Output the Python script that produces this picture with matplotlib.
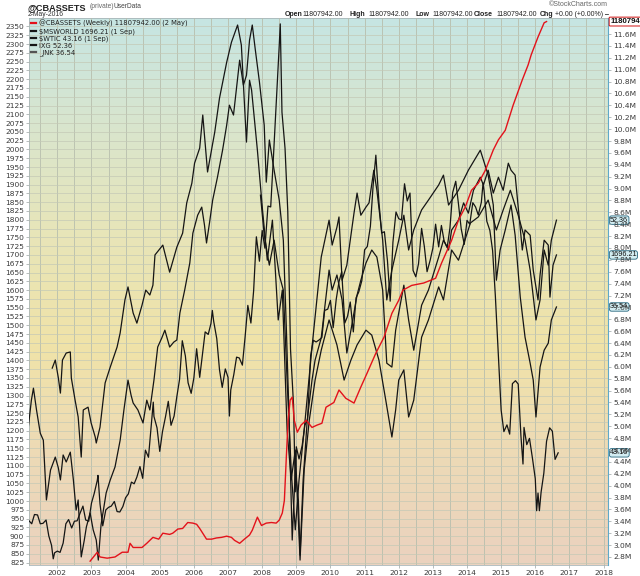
import matplotlib
matplotlib.use("Agg")
import numpy as np
import matplotlib.pyplot as plt
from matplotlib.colors import LinearSegmentedColormap
from matplotlib.lines import Line2D
from matplotlib.ticker import MultipleLocator, FixedLocator, FuncFormatter

# ====== DATA ======
# @CBASSETS, weekly, right axis in millions
cb_years = [2002.96, 2003.17, 2003.25, 2003.46, 2003.69, 2003.90, 2004.07, 2004.13, 2004.22, 2004.48,
            2004.62, 2004.80, 2004.97, 2005.09, 2005.29, 2005.38, 2005.53, 2005.67, 2005.82, 2005.97,
            2006.08, 2006.17, 2006.37, 2006.52, 2006.66, 2006.81, 2006.96, 2007.10, 2007.19, 2007.34,
            2007.48, 2007.63, 2007.71, 2007.86, 2007.98, 2008.12, 2008.27, 2008.41, 2008.50, 2008.59,
            2008.65, 2008.71, 2008.76, 2008.82, 2008.88, 2008.94, 2009.03, 2009.14, 2009.29, 2009.46,
            2009.61, 2009.75, 2009.87, 2010.10, 2010.25, 2010.45, 2010.69, 2010.89, 2011.07, 2011.33,
            2011.57, 2011.80, 2012.00, 2012.12, 2012.38, 2012.73, 2013.08, 2013.25, 2013.55, 2013.75,
            2013.95, 2014.13, 2014.33, 2014.54, 2014.62, 2014.77, 2014.92, 2015.12, 2015.35, 2015.62,
            2015.79, 2015.88, 2016.08, 2016.26, 2016.33]
cb_vals = [2.73, 2.88, 2.80, 2.78, 2.80, 2.88, 2.88, 3.03, 2.96, 2.96,
           3.03, 3.13, 3.10, 3.20, 3.18, 3.20, 3.27, 3.28, 3.38, 3.37,
           3.35, 3.28, 3.10, 3.10, 3.12, 3.13, 3.15, 3.13, 3.08, 3.03,
           3.10, 3.17, 3.25, 3.47, 3.33, 3.37, 3.38, 3.37, 3.42, 3.54,
           3.75, 4.51, 5.10, 5.44, 5.49, 5.10, 4.90, 5.02, 5.10, 4.98,
           5.02, 5.05, 5.32, 5.40, 5.61, 5.47, 5.39, 5.66, 5.89, 6.23,
           6.50, 6.90, 7.12, 7.29, 7.37, 7.41, 7.49, 7.74, 8.13, 8.47,
           8.69, 8.97, 9.09, 9.31, 9.43, 9.65, 9.82, 9.98, 10.40, 10.83,
           11.08, 11.25, 11.55, 11.79, 11.81]

# $MSWORLD, in left-axis units
msw_years = [2001.15, 2001.24, 2001.30, 2001.39, 2001.50, 2001.59, 2001.68, 2001.74, 2001.80, 2001.94,
             2002.03, 2002.09, 2002.17, 2002.26, 2002.38, 2002.47, 2002.55, 2002.61, 2002.70, 2002.79,
             2002.85, 2002.96, 2003.05, 2003.14, 2003.20, 2003.28, 2003.43, 2003.55, 2003.69, 2003.84,
             2003.95, 2004.07, 2004.16, 2004.22, 2004.36, 2004.51, 2004.62, 2004.71, 2004.83, 2004.94,
             2005.06, 2005.15, 2005.29, 2005.41, 2005.50, 2005.59, 2005.73, 2005.88, 2005.97, 2006.11,
             2006.23, 2006.31, 2006.37, 2006.46, 2006.55, 2006.69, 2006.84, 2006.96, 2007.04, 2007.16,
             2007.34, 2007.45, 2007.54, 2007.63, 2007.71, 2007.80, 2007.92, 2008.06, 2008.12, 2008.21,
             2008.35, 2008.50, 2008.62, 2008.71, 2008.79, 2008.88, 2008.97, 2009.06, 2009.11, 2009.20,
             2009.32, 2009.46, 2009.55, 2009.73, 2009.96, 2010.05, 2010.19, 2010.34, 2010.48, 2010.60,
             2010.78, 2010.89, 2011.04, 2011.21, 2011.36, 2011.53, 2011.65, 2011.80, 2011.91, 2012.00,
             2012.15, 2012.29, 2012.44, 2012.67, 2012.87, 2013.17, 2013.31, 2013.46, 2013.55, 2013.75,
             2013.90, 2014.04, 2014.19, 2014.39, 2014.48, 2014.62, 2014.77, 2014.92, 2015.06, 2015.21,
             2015.29, 2015.41, 2015.50, 2015.62, 2015.70, 2015.85, 2015.94, 2016.08, 2016.14, 2016.26,
             2016.38, 2016.43, 2016.52, 2016.62]
msw_vals = [1210, 1287, 1321, 1259, 1193, 1173, 1003, 1045, 1088, 1125,
            1094, 1060, 1131, 1111, 1139, 1060, 974, 1003, 841, 889,
            926, 966, 918, 889, 832, 932, 1023, 1060, 1097, 1173,
            1259, 1344, 1301, 1279, 1259, 1222, 1287, 1259, 1344, 1438,
            1464, 1486, 1438, 1452, 1458, 1535, 1600, 1677, 1762, 1813,
            1836, 1785, 1734, 1793, 1856, 1921, 1998, 2069, 2126, 2098,
            2254, 2183, 2211, 2311, 2354, 2283, 2192, 2069, 1907, 2027,
            1941, 1856, 1742, 1486, 1230, 889, 1088, 1003, 846, 1060,
            1230, 1344, 1401, 1464, 1657, 1600, 1643, 1572, 1421, 1486,
            1586, 1628, 1677, 1714, 1694, 1600, 1392, 1381, 1486, 1535,
            1614, 1515, 1429, 1557, 1600, 1694, 1742, 1714, 1771, 1799,
            1848, 1819, 1884, 1921, 1899, 1941, 1876, 1921, 1884, 1961,
            1941, 1927, 1836, 1714, 1771, 1756, 1657, 1572, 1643, 1742,
            1728, 1580, 1671, 1700]

# IXG, in left-axis units
ixg_years = [2001.85, 2001.94, 2002.03, 2002.09, 2002.15, 2002.26, 2002.38, 2002.41, 2002.52, 2002.61,
             2002.70, 2002.76, 2002.90, 2002.99, 2003.11, 2003.14, 2003.25, 2003.40, 2003.55, 2003.75,
             2003.84, 2003.98, 2004.07, 2004.22, 2004.33, 2004.48, 2004.59, 2004.71, 2004.80, 2004.86,
             2005.09, 2005.29, 2005.50, 2005.67, 2005.79, 2005.94, 2006.02, 2006.17, 2006.26, 2006.40,
             2006.61, 2006.75, 2006.96, 2007.10, 2007.28, 2007.39, 2007.54, 2007.63, 2007.69, 2007.86,
             2008.01, 2008.15, 2008.30, 2008.47, 2008.59, 2008.73, 2008.85, 2008.97, 2009.06, 2009.11,
             2009.23, 2009.38, 2009.55, 2009.73, 2009.96, 2010.19, 2010.40, 2010.60, 2010.78, 2011.04,
             2011.21, 2011.42, 2011.62, 2011.80, 2011.91, 2012.00, 2012.15, 2012.29, 2012.44, 2012.67,
             2012.87, 2013.17, 2013.31, 2013.55, 2013.75, 2014.10, 2014.33, 2014.62, 2014.86, 2015.06,
             2015.27, 2015.50, 2015.70, 2015.85, 2016.02, 2016.14, 2016.26, 2016.38, 2016.47, 2016.62]
ixg_vals = [1378, 1401, 1350, 1307, 1401, 1421, 1424, 1350, 1287, 1239,
            1125, 1259, 1267, 1222, 1182, 1165, 1210, 1336, 1381, 1438,
            1478, 1572, 1609, 1535, 1506, 1557, 1600, 1586, 1614, 1700,
            1728, 1651, 1722, 1762, 1848, 1904, 1961, 2004, 2098, 1936,
            2049, 2146, 2248, 2305, 2354, 2297, 2021, 2197, 2169, 1998,
            1828, 1685, 1799, 1515, 1600, 1202, 1060, 1145, 946, 832,
            1088, 1230, 1344, 1429, 1515, 1444, 1344, 1401, 1444, 1486,
            1472, 1401, 1287, 1182, 1259, 1344, 1373, 1239, 1287, 1466,
            1515, 1609, 1572, 1714, 1685, 1791, 1808, 1856, 1771, 1828,
            1884, 1813, 1742, 1657, 1515, 1572, 1714, 1671, 1742, 1799]

# _JNK, in left-axis units
jnk_years = [2007.95, 2008.06, 2008.21, 2008.35, 2008.50, 2008.62, 2008.73, 2008.85, 2008.97, 2009.08,
             2009.23, 2009.46, 2009.73, 2009.96, 2010.05, 2010.19, 2010.25, 2010.34, 2010.48, 2010.60,
             2010.69, 2010.78, 2010.89, 2011.04, 2011.13, 2011.27, 2011.36, 2011.53, 2011.65, 2011.80,
             2012.00, 2012.15, 2012.29, 2012.44, 2012.67, 2012.87, 2013.17, 2013.31, 2013.46, 2013.75,
             2014.04, 2014.39, 2014.62, 2014.77, 2014.86, 2014.97, 2015.12, 2015.29, 2015.41, 2015.56,
             2015.70, 2015.85, 2015.94, 2016.02, 2016.14, 2016.26, 2016.38, 2016.47, 2016.62]
jnk_vals = [1870, 1756, 1671, 1742, 1643, 1600, 1344, 1088, 918, 1060,
            1202, 1438, 1694, 1799, 1728, 1779, 1808, 1628, 1671, 1756,
            1819, 1876, 1813, 1836, 1848, 1941, 1884, 1742, 1572, 1657,
            1742, 1813, 1714, 1771, 1828, 1856, 1899, 1927, 1842, 1884,
            1941, 1998, 1927, 1842, 1628, 1714, 1771, 1842, 1756, 1580,
            1466, 1392, 1344, 1239, 1381, 1429, 1449, 1515, 1552]

# $WTIC, $ per barrel (own hidden scale)
wtic_years = [2001.17, 2001.25, 2001.33, 2001.42, 2001.50, 2001.58, 2001.67, 2001.75, 2001.83, 2001.88,
              2001.92, 2002.00, 2002.08, 2002.17, 2002.25, 2002.33, 2002.42, 2002.50, 2002.58, 2002.67,
              2002.75, 2002.83, 2002.92, 2003.00, 2003.08, 2003.17, 2003.19, 2003.25, 2003.33, 2003.42,
              2003.50, 2003.58, 2003.67, 2003.75, 2003.83, 2003.92, 2004.00, 2004.08, 2004.17, 2004.25,
              2004.33, 2004.42, 2004.50, 2004.58, 2004.67, 2004.75, 2004.81, 2004.83, 2004.92, 2005.00,
              2005.08, 2005.17, 2005.25, 2005.33, 2005.42, 2005.50, 2005.58, 2005.66, 2005.75, 2005.83,
              2005.92, 2006.00, 2006.08, 2006.17, 2006.25, 2006.33, 2006.42, 2006.50, 2006.54, 2006.58,
              2006.67, 2006.75, 2006.83, 2006.92, 2007.00, 2007.04, 2007.08, 2007.17, 2007.25, 2007.33,
              2007.42, 2007.50, 2007.58, 2007.67, 2007.75, 2007.83, 2007.92, 2008.00, 2008.08, 2008.17,
              2008.25, 2008.33, 2008.42, 2008.50, 2008.53, 2008.58, 2008.67, 2008.75, 2008.83, 2008.92,
              2008.97, 2009.00, 2009.08, 2009.17, 2009.25, 2009.33, 2009.42, 2009.50, 2009.58, 2009.67,
              2009.75, 2009.83, 2009.92, 2010.00, 2010.08, 2010.17, 2010.25, 2010.33, 2010.42, 2010.50,
              2010.58, 2010.67, 2010.75, 2010.83, 2010.92, 2011.00, 2011.08, 2011.17, 2011.25, 2011.33,
              2011.42, 2011.50, 2011.58, 2011.67, 2011.75, 2011.83, 2011.92, 2012.00, 2012.08, 2012.17,
              2012.25, 2012.33, 2012.42, 2012.50, 2012.58, 2012.67, 2012.75, 2012.83, 2012.92, 2013.00,
              2013.08, 2013.17, 2013.25, 2013.33, 2013.42, 2013.50, 2013.58, 2013.67, 2013.75, 2013.83,
              2013.92, 2014.00, 2014.08, 2014.17, 2014.25, 2014.33, 2014.42, 2014.47, 2014.50, 2014.58,
              2014.67, 2014.75, 2014.83, 2014.92, 2015.00, 2015.08, 2015.17, 2015.25, 2015.33, 2015.42,
              2015.50, 2015.58, 2015.64, 2015.67, 2015.75, 2015.83, 2015.92, 2016.00, 2016.04, 2016.08,
              2016.12, 2016.17, 2016.25, 2016.33, 2016.42, 2016.50, 2016.58, 2016.67]
wtic_px = [27.0, 26.3, 28.5, 28.4, 26.3, 26.4, 27.2, 23.4, 21.2, 17.97,
           19.4, 19.8, 19.5, 21.7, 26.3, 27.3, 25.3, 26.9, 27.0, 28.9,
           30.5, 27.2, 26.9, 31.2, 33.5, 36.6, 37.8, 31.0, 25.8, 29.6,
           30.2, 30.5, 31.6, 29.2, 29.1, 30.4, 32.5, 33.4, 36.2, 35.8,
           37.4, 39.9, 37.1, 43.8, 42.1, 49.6, 55.2, 51.8, 49.1, 43.5,
           48.2, 51.8, 55.4, 49.7, 51.9, 56.5, 60.6, 69.8, 66.2, 59.8,
           57.3, 61.0, 67.9, 61.1, 66.6, 71.9, 71.3, 73.9, 77.0, 74.4,
           70.3, 62.9, 58.7, 63.1, 61.1, 51.9, 58.1, 61.8, 65.9, 65.7,
           64.0, 70.7, 78.2, 74.0, 81.7, 94.5, 88.7, 96.0, 91.8, 101.8,
           101.6, 113.5, 127.4, 140.0, 145.1, 124.1, 115.5, 100.6, 67.8, 54.4,
           33.9, 44.6, 41.7, 44.8, 49.7, 51.1, 66.3, 69.9, 69.5, 70.0,
           70.6, 77.0, 77.3, 79.4, 72.9, 79.7, 83.8, 86.2, 74.0, 75.6,
           79.0, 71.9, 80.0, 81.4, 84.1, 91.4, 92.2, 97.0, 106.7, 113.9,
           102.7, 95.4, 95.7, 88.8, 79.2, 93.2, 100.4, 98.8, 98.5, 107.1,
           103.0, 104.9, 86.5, 85.0, 88.1, 96.5, 92.2, 86.2, 88.9, 91.8,
           97.5, 92.1, 97.2, 93.5, 92.0, 96.6, 105.0, 107.7, 102.3, 96.4,
           92.7, 98.4, 97.5, 102.6, 101.6, 99.7, 102.7, 107.3, 105.4, 98.2,
           96.0, 91.2, 80.5, 66.2, 53.3, 48.2, 49.8, 47.6, 59.6, 60.3,
           59.5, 47.1, 40.5, 49.2, 45.1, 46.6, 41.7, 37.0, 29.4, 33.6,
           29.4, 33.8, 38.3, 45.9, 49.1, 48.3, 41.6, 43.16]

legend_labels = ["@CBASSETS (Weekly) 11807942.00 (2 May)", "$MSWORLD 1696.21 (1 Sep)",
                 "$WTIC 43.16 (1 Sep)", "IXG 52.36", "_JNK 36.54"]

# ====== FIGURE ======
plt.rcParams["font.family"] = ["DejaVu Sans"]
fig = plt.figure(figsize=(6.4, 5.76), dpi=100)
fig.patch.set_facecolor("white")
W, H = 640.0, 576.0
ax = fig.add_axes([29 / W, 1 - 565 / H, (608 - 29) / W, (565 - 18) / H])

# background gradient
bg = LinearSegmentedColormap.from_list(
    "bg", ["#ebd2bf", "#eddab6", "#f0e3a8", "#e8e5b8", "#d9e6cd", "#c6e5e3"])
ax.imshow(np.linspace(0, 1, 256).reshape(-1, 1), cmap=bg, origin="lower", aspect="auto",
          extent=[0, 1, 0, 1], transform=ax.transAxes, zorder=0)

ax.set_xlim(2001.17, 2018.13)
ax.set_ylim(818, 2374)
ax.xaxis.set_major_locator(MultipleLocator(1))
ax.xaxis.set_minor_locator(FixedLocator(np.arange(2001.5, 2018.5, 1.0)))
ax.yaxis.set_major_locator(MultipleLocator(25))
ax.xaxis.set_major_formatter(FuncFormatter(lambda v, p: f"{int(round(v))}"))
ax.grid(True, which="both", axis="x", color="#b7bead", lw=0.6, zorder=1)
ax.grid(True, which="major", axis="y", color="#c4c9b6", lw=0.5, zorder=1)
ax.set_axisbelow(False)
ax.tick_params(axis="both", labelsize=5.4, labelcolor="#3a3a3a", color="#9aa3a3",
               length=2, width=0.5, pad=1.5)
ax.tick_params(axis="x", which="minor", length=0)

for name, sp in ax.spines.items():
    sp.set_color("#a9b6b8")
    sp.set_linewidth(0.6)
ax.spines["right"].set_visible(False)

blk = "#151515"
ax.plot(msw_years, msw_vals, color=blk, lw=0.9, zorder=3)
ax.plot(ixg_years, ixg_vals, color=blk, lw=0.9, zorder=3)
ax.plot(jnk_years, jnk_vals, color=blk, lw=0.9, zorder=3)

# oil on its own hidden scale
ax_o = ax.twinx()
ax_o.set_ylim(16.5, 146.5)
ax_o.plot(wtic_years, wtic_px, color=blk, lw=0.9, zorder=3)
ax_o.set_yticks([])
for sp in ax_o.spines.values():
    sp.set_visible(False)

# CBASSETS on right axis
ax_r = ax.twinx()
ax_r.set_ylim(2.665, 11.87)
ax_r.plot(cb_years, cb_vals, color="#e3121b", lw=1.0, zorder=4)
ax_r.yaxis.set_major_locator(FixedLocator(np.arange(2.8, 11.61, 0.2)))
ax_r.yaxis.set_major_formatter(FuncFormatter(lambda v, p: f"{v:.1f}M"))
ax_r.tick_params(axis="y", labelsize=5.4, labelcolor="#3a3a3a", color="#9aa3a3",
                 length=2, width=0.5, pad=2)
for name, sp in ax_r.spines.items():
    sp.set_visible(name == "right")
ax_r.spines["right"].set_color("#5fa9c9")
ax_r.spines["right"].set_linestyle((0, (1, 1)))
ax_r.spines["right"].set_linewidth(0.8)

# last-value tags on right axis
tag = dict(boxstyle="round,pad=0.1,rounding_size=0.3", fc="#d3edf2", ec="#25657c", lw=0.6)
for a, val, txt in [(ax, ixg_vals[-1], "52.36"), (ax, msw_vals[-1], "1696.21"),
                    (ax, jnk_vals[-1], "36.54"), (ax_o, wtic_px[-1], "43.16")]:
    a.annotate(txt, xy=(1.0, val), xycoords=("axes fraction", "data"), xytext=(1.5, 0),
               textcoords="offset points", ha="left", va="center", fontsize=5.2,
               family="Liberation Sans", color="#111111", bbox=tag, zorder=6,
               annotation_clip=False)
ax_r.annotate("11807942", xy=(1.0, cb_vals[-1]), xycoords=("axes fraction", "data"),
              xytext=(1.5, 0), textcoords="offset points", ha="left", va="center",
              fontsize=5.6, fontweight="bold", family="Liberation Sans", color="#111111",
              zorder=6, bbox=dict(boxstyle="round,pad=0.12", fc="white", ec="#d01010", lw=0.7),
              annotation_clip=False)

# legend
handles = [Line2D([], [], color="#e3121b", lw=1.6)] + \
          [Line2D([], [], color=c, lw=1.6) for c in [blk, blk, blk, "#555555"]]
leg = ax_r.legend(handles, legend_labels, loc="upper left", frameon=False,
                  prop={"family": "DejaVu Sans", "size": 4.9},
                  handlelength=0.7, handletextpad=0.45, labelspacing=0.12,
                  borderaxespad=0.2, borderpad=0.1)
for t in leg.get_texts():
    t.set_color("#222222")


# ====== HEADER ======
def fx(x):
    return x / W


def fy(y):
    return 1 - y / H


hf = "Liberation Sans"
fig.text(fx(28), fy(7.5), "@CBASSETS", fontsize=6.6, fontweight="bold", family=hf,
         color="#222222", va="center", ha="left")
fig.text(fx(90), fy(7), "(private)", fontsize=4.8, family=hf, color="#666666", va="center")
fig.text(fx(113), fy(7), "UserData", fontsize=4.8, family=hf, color="#444444", va="center")
fig.text(fx(28), fy(15), "2-May-2016", fontsize=4.9, family=hf, color="#333333", va="center")
fig.text(fx(608), fy(5), "\u00a9StockCharts.com", fontsize=5.0, family=hf, color="#666666",
         va="center", ha="right")
hdr = [(285, "Open", True), (302, "11807942.00", False), (349, "High", True),
       (368, "11807942.00", False), (416, "Low", True), (432, "11807942.00", False),
       (474, "Close", True), (496, "11807942.00", False), (540, "Chg", True),
       (555, "+0.00 (+0.00%)", False), (604, "\u2012", True)]
for x, s, b in hdr:
    fig.text(fx(x), fy(14.5), s, fontsize=5.0, fontweight="bold" if b else "normal",
             family=hf, color="#222222", va="center", ha="left")

fig.savefig("out.png", dpi=100, facecolor="white")
